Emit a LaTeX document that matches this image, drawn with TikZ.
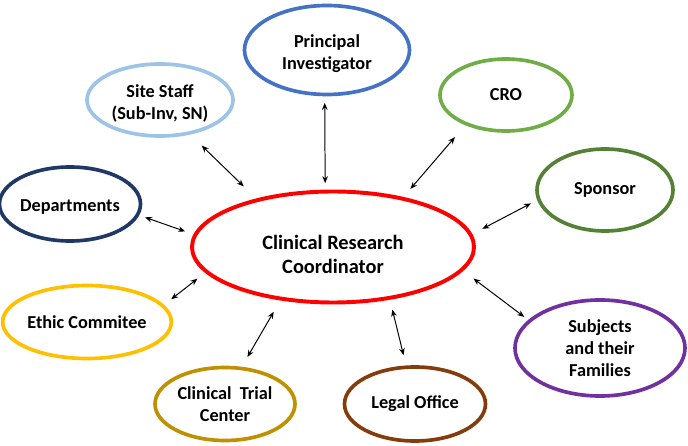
\documentclass[tikz,border=0pt]{standalone}
\usepackage{fontspec}
\setmainfont{Carlito}
\usetikzlibrary{arrows.meta,shapes.geometric}
\definecolor{hubred}{RGB}{255,0,0}
\definecolor{piblue}{RGB}{68,114,196}
\definecolor{staffblue}{RGB}{157,195,230}
\definecolor{crogreen}{RGB}{112,173,71}
\definecolor{spgreen}{RGB}{84,130,53}
\definecolor{deptnavy}{RGB}{31,56,100}
\definecolor{ethicgold}{RGB}{255,192,0}
\definecolor{ctcgold}{RGB}{191,144,0}
\definecolor{legalbrown}{RGB}{132,60,12}
\definecolor{subjpurple}{RGB}{112,48,160}

\begin{document}
\begin{tikzpicture}[
  sat/.style={ellipse, line width=2.6pt, fill=white, inner sep=0pt, outer sep=0pt,
              align=center, font=\fontsize{13}{15.6}\selectfont\bfseries},
  hub/.style={ellipse, line width=2.8pt, draw=hubred, inner sep=0pt, outer sep=0pt,
              align=center, font=\fontsize{14.5}{17}\selectfont\bfseries},
  arr/.style={{Stealth[length=5pt,width=4pt]}-{Stealth[length=5pt,width=4pt]},
              line width=0.7pt, black}
]
\useasboundingbox (0,0) rectangle (17.2,-11.15);

% ── Hub ───────────────────────────────
\node[hub, minimum width=7.05cm, minimum height=2.775cm] (crc) at (8.325,-6.175)
  {\rule{0pt}{21pt}Clinical Research\\Coordinator};

% ── Satellites ────────────────────────
\node[sat, draw=piblue, minimum width=4.125cm, minimum height=2.225cm] (pi) at (8.175,-1.25)
  {\rule{0pt}{14pt}Principal\\Investigator};
\node[sat, draw=staffblue, minimum width=3.65cm, minimum height=1.8cm] (staff) at (4.0,-2.5)
  {\rule{0pt}{14pt}Site Staff\\(Sub-Inv, SN)};
\node[sat, draw=crogreen, minimum width=3.3cm, minimum height=1.8cm] (cro) at (12.65,-2.375)
  {CRO};
\node[sat, draw=spgreen, minimum width=3.4cm, minimum height=2.05cm] (sponsor) at (15.125,-4.75)
  {Sponsor};
\node[sat, draw=deptnavy, minimum width=3.25cm, minimum height=1.85cm] (dept) at (1.75,-5.1)
  {\rule{0pt}{13pt}Departments};
\node[sat, draw=ethicgold, minimum width=3.475cm, minimum height=1.825cm] (ethic) at (2.175,-8.05)
  {Ethic Commitee};
\node[sat, draw=ctcgold, minimum width=3.5cm, minimum height=1.825cm] (ctc) at (5.625,-10.1)
  {Clinical~~Trial\\Center};
\node[sat, draw=legalbrown, minimum width=3.525cm, minimum height=1.85cm] (legal) at (10.375,-10.1)
  {Legal Office};
\node[sat, draw=subjpurple, minimum width=4.25cm, minimum height=2.4cm] (subj) at (15.0,-8.7)
  {Subjects\\and their\\Families};

% ── Arrows hub <-> satellites ─────────
\foreach \s/\a/\b/\p/\q in {staff/148.2/-49.6/0.49/0.45, pi/98/-93/0.21/0.21,
    cro/35.2/216/0.32/0.44, sponsor/5.5/188.6/0.33/0.22, dept/175.2/-9.6/0.27/0.2,
    ethic/191.1/12.5/0.29/0.27, ctc/225.4/66.9/0.38/0.33, legal/-42.4/103.7/0.3/0.31,
    subj/-10.8/159/0.37/0.17} {
  \draw[arr, shorten <=\p cm, shorten >=\q cm] (crc.\a) -- (\s.\b);
}

\end{tikzpicture}
\end{document}
